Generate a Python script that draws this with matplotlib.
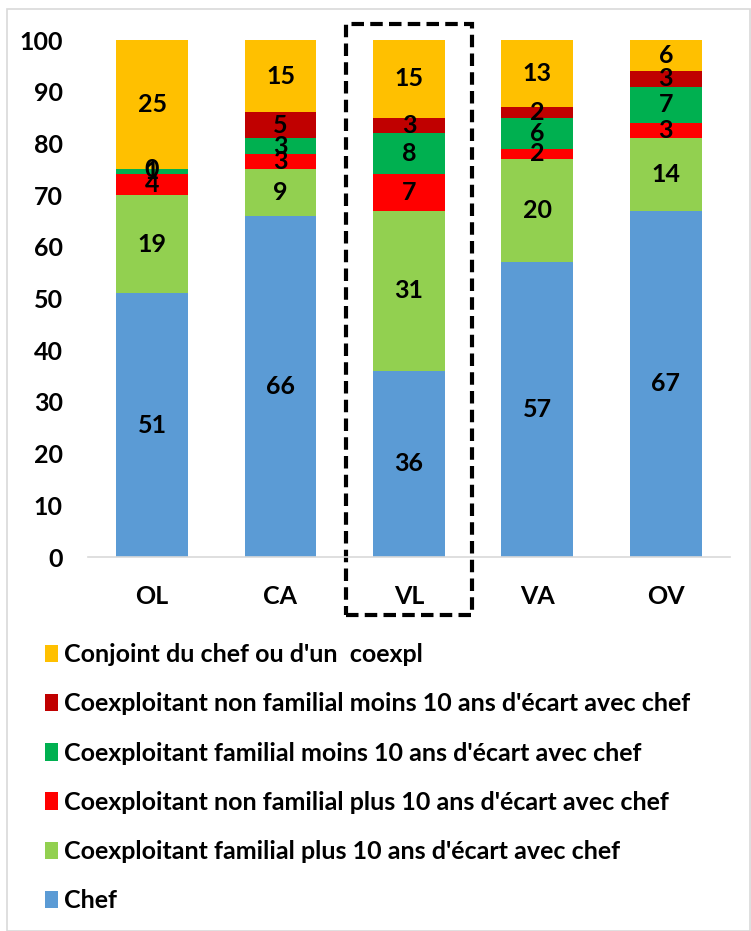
import matplotlib
matplotlib.use("Agg")
import matplotlib.pyplot as plt
from matplotlib.patches import Rectangle

plt.rcParams['font.family'] = ['Lato', 'DejaVu Sans']
plt.rcParams['font.weight'] = 'bold'

categories = ["OL", "CA", "VL", "VA", "OV"]
series_names = [
    "Chef",
    "Coexploitant familial plus 10 ans d'écart avec chef",
    "Coexploitant non familial plus 10 ans d'écart avec chef",
    "Coexploitant familial moins 10 ans d'écart avec chef",
    "Coexploitant non familial moins 10 ans d'écart avec chef",
    "Conjoint du chef ou d'un  coexpl",
]
chef = [51, 66, 36, 57, 67]
fam_plus = [19, 9, 31, 20, 14]
nonfam_plus = [4, 3, 7, 2, 3]
fam_moins = [1, 3, 8, 6, 7]
nonfam_moins = [0, 5, 3, 2, 3]
conjoint = [25, 15, 15, 13, 6]
colors = ["#5B9BD5", "#92D050", "#FF0000", "#00B050", "#C00000", "#FFC000"]

series = [chef, fam_plus, nonfam_plus, fam_moins, nonfam_moins, conjoint]

fig = plt.figure(figsize=(7.51, 9.31), dpi=100)
ax = fig.add_axes([0.117, 0.4017, 0.855, 0.5553])

x = list(range(len(categories)))
bottom = [0] * len(categories)
handles = []
for vals, name, col in zip(series, series_names, colors):
    bars = ax.bar(x, vals, 0.56, bottom=bottom, color=col, label=name)
    ax.bar_label(bars, labels=[str(v) for v in vals], label_type='center',
                 fontsize=18, fontweight='bold', color='black')
    handles.append(bars)
    bottom = [b + v for b, v in zip(bottom, vals)]

ax.set_xlim(-0.5, 4.5)
ax.set_ylim(0, 100)
ax.set_yticks(range(0, 101, 10))
ax.set_xticks(x)
ax.set_xticklabels(categories)
ax.tick_params(axis='both', length=0, labelsize=18)
ax.tick_params(axis='y', pad=18)
ax.tick_params(axis='x', pad=20)
for lab in ax.get_xticklabels() + ax.get_yticklabels():
    lab.set_fontweight('bold')
for s in ['top', 'right', 'left']:
    ax.spines[s].set_visible(False)
ax.spines['bottom'].set_color('#D9D9D9')
ax.spines['bottom'].set_linewidth(1.2)

# dashed highlight box around VL
rect = Rectangle((2 - 0.49, -11.2), 0.98, 114.3, transform=ax.transData,
                 fill=False, edgecolor='black', linestyle=(0, (3, 1.5)),
                 linewidth=3, clip_on=False)
ax.add_patch(rect)

leg = fig.legend(handles[::-1], series_names[::-1], loc='upper left',
                 bbox_to_anchor=(0.047, 0.32), frameon=False,
                 fontsize=18, handlelength=0.5, handleheight=0.7,
                 handletextpad=0.25, labelspacing=1.05, borderaxespad=0)
for t in leg.get_texts():
    t.set_fontweight('bold')

# outer light border
fig.patches.append(Rectangle((0.009, 0.0), 0.99, 0.99, transform=fig.transFigure,
                             fill=False, edgecolor='#D9D9D9', linewidth=1.2))

fig.savefig("out.png", dpi=100)
